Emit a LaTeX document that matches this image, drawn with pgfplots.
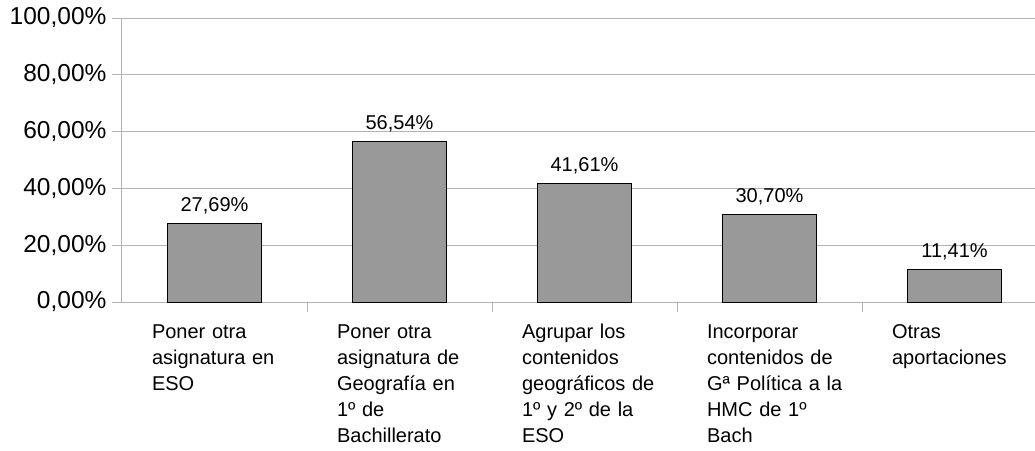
\documentclass[border=0pt]{standalone}
\usepackage{fontspec}
\setmainfont{Liberation Sans}
\usepackage{pgfplots}
\pgfplotsset{compat=1.18}

\definecolor{bargray}{HTML}{999999}
\definecolor{gridgray}{HTML}{B3B3B3}

\begin{document}
\begin{tikzpicture}
\useasboundingbox (-122pt,-148pt) rectangle (913pt,302pt);
\begin{axis}[
  at={(0pt,0pt)}, anchor=south west,
  scale only axis,
  width=913pt, height=284pt,
  ybar, bar width=94pt,
  xmin=-0.5, xmax=4.435,
  ymin=0, ymax=100,
  axis x line*=bottom, axis y line*=left,
  axis line style={gridgray, line width=1pt},
  ymajorgrids, grid style={gridgray, line width=1pt},
  ytick={0,20,40,60,80,100},
  yticklabels={{0,00\%},{20,00\%},{40,00\%},{60,00\%},{80,00\%},{100,00\%}},
  xtick={0,1,2,3,4},
  xticklabels={
    {Poner otra\\asignatura en\\ESO},
    {Poner otra\\asignatura de\\Geografía en\\1º de\\Bachillerato},
    {Agrupar los\\contenidos\\geográficos de\\1º y 2º de la\\ESO},
    {Incorporar\\contenidos de\\Gª Política a la\\HMC de 1º\\Bach},
    {Otras\\aportaciones}},
  minor xtick={0.5,1.5,2.5,3.5},
  tick align=outside,
  ytick style={gridgray, line width=1pt},
  major tick length=10pt,
  minor tick length=10pt,
  xtick style={draw=none},
  minor x tick style={gridgray, line width=1pt, draw=gridgray},
  yticklabel style={font=\fontsize{24.5}{29}\selectfont, xshift=-2pt},
  xticklabel style={font=\fontsize{20}{26}\selectfont, anchor=north west,
    xshift=-66pt, yshift=-5pt, text width=160pt, align=left,
    execute at begin node=\strut},
  nodes near coords={\pgfmathprintnumber[fixed,fixed zerofill,precision=2,use comma,assume math mode=true]{\pgfplotspointmeta}\%},
  every node near coord/.append style={font=\fontsize{20}{24}\selectfont, anchor=base, inner sep=0pt, yshift=12pt, black},
]
\addplot[fill=bargray, draw=black, line width=1pt] coordinates {
  (0,27.69) (1,56.54) (2,41.61) (3,30.70) (4,11.41)
};
\end{axis}
\end{tikzpicture}
\end{document}
